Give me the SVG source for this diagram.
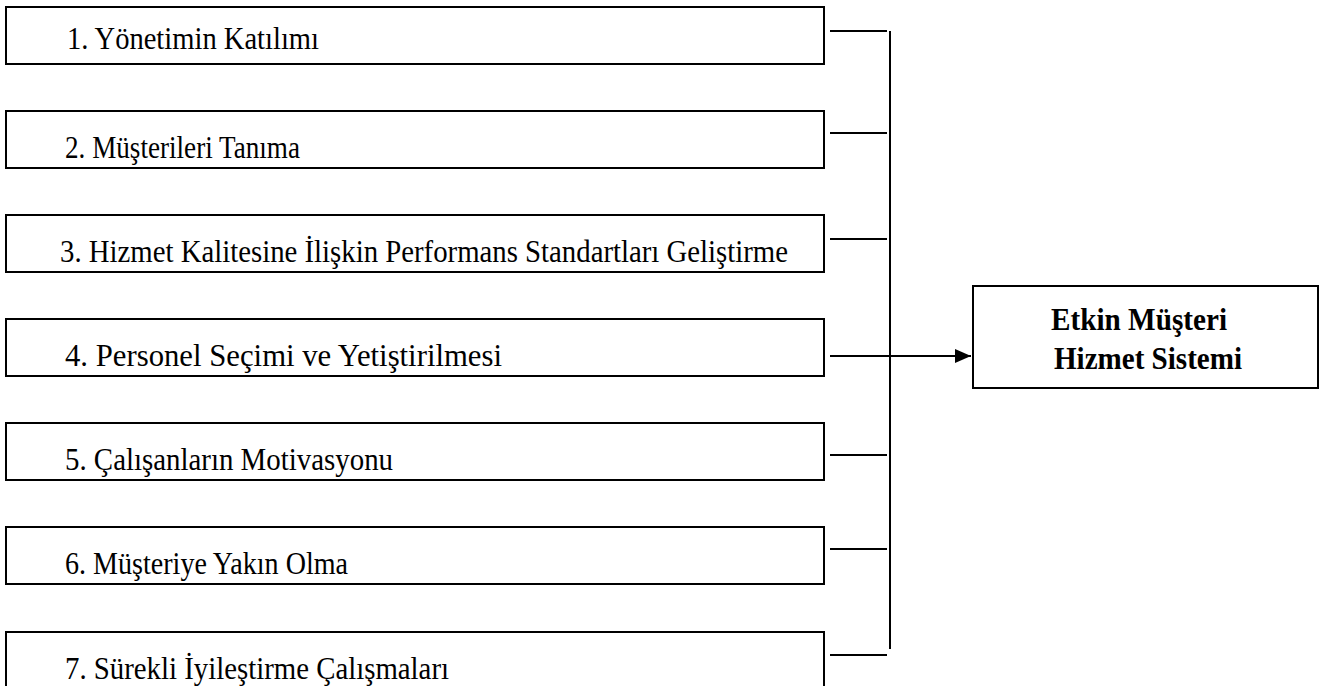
<svg xmlns="http://www.w3.org/2000/svg" width="1321" height="686" viewBox="0 0 1321 686">
<defs>
<style>
.box{fill:#fff;stroke:#000;stroke-width:2}
.t{font-family:"Liberation Serif","Times New Roman",serif;font-size:32px;fill:#000}
.b{font-family:"Liberation Serif","Times New Roman",serif;font-size:31px;font-weight:bold;fill:#000}
.ln{stroke:#000;stroke-width:2;fill:none}
</style>
<marker id="ah" markerWidth="16" markerHeight="14" refX="16" refY="7" orient="auto" markerUnits="userSpaceOnUse">
<path d="M0,0 L16,7 L0,14 Z" fill="#000"/>
</marker>
</defs>
<rect width="1321" height="686" fill="#fff"/>
<g id="n1"><rect class="box" x="6" y="7" width="818" height="57"/><text class="t" x="67" y="49" textLength="252" lengthAdjust="spacingAndGlyphs">1. Yönetimin Katılımı</text></g>
<g id="n2"><rect class="box" x="6" y="111" width="818" height="57"/><text class="t" x="65" y="158" textLength="235" lengthAdjust="spacingAndGlyphs">2. Müşterileri Tanıma</text></g>
<g id="n3"><rect class="box" x="6" y="215" width="818" height="57"/><text class="t" x="60" y="262" textLength="728" lengthAdjust="spacingAndGlyphs">3. Hizmet Kalitesine İlişkin Performans Standartları Geliştirme</text></g>
<g id="n4"><rect class="box" x="6" y="319" width="818" height="57"/><text class="t" x="65" y="366" textLength="437" lengthAdjust="spacingAndGlyphs">4. Personel Seçimi ve Yetiştirilmesi</text></g>
<g id="n5"><rect class="box" x="6" y="423" width="818" height="57"/><text class="t" x="65" y="470" textLength="328" lengthAdjust="spacingAndGlyphs">5. Çalışanların Motivasyonu</text></g>
<g id="n6"><rect class="box" x="6" y="527" width="818" height="57"/><text class="t" x="65" y="574" textLength="283" lengthAdjust="spacingAndGlyphs">6. Müşteriye Yakın Olma</text></g>
<g id="n7"><rect class="box" x="6" y="632" width="818" height="60"/><text class="t" x="65" y="679" textLength="384" lengthAdjust="spacingAndGlyphs">7. Sürekli İyileştirme Çalışmaları</text></g>
<g id="target"><rect class="box" x="973" y="286" width="345" height="102"/>
<text class="b" x="1051" y="330" textLength="176" lengthAdjust="spacingAndGlyphs">Etkin Müşteri</text>
<text class="b" x="1054" y="369" textLength="188" lengthAdjust="spacingAndGlyphs">Hizmet Sistemi</text></g>
<g id="connectors">
<line class="ln" x1="830" y1="31" x2="887" y2="31"/>
<line class="ln" x1="830" y1="133" x2="887" y2="133"/>
<line class="ln" x1="830" y1="239" x2="887" y2="239"/>
<line class="ln" x1="830" y1="455" x2="887" y2="455"/>
<line class="ln" x1="830" y1="549" x2="887" y2="549"/>
<line class="ln" x1="830" y1="655" x2="887" y2="655"/>
<line class="ln" x1="890" y1="31" x2="890" y2="649"/>
<line class="ln" x1="830" y1="356" x2="971" y2="356" marker-end="url(#ah)"/>
</g>
</svg>
